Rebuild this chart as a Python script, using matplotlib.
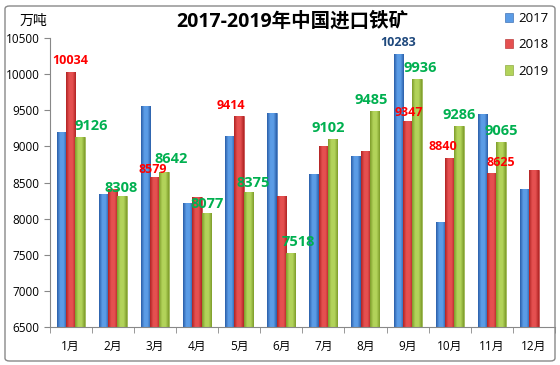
import matplotlib
matplotlib.use("Agg")
import matplotlib.pyplot as plt
import numpy as np
from matplotlib.patches import FancyBboxPatch
from matplotlib.colors import LinearSegmentedColormap

plt.rcParams['font.family'] = ['Open Sans', 'Noto Sans CJK SC', 'DejaVu Sans']

months = ['1月', '2月', '3月', '4月', '5月', '6月', '7月', '8月', '9月', '10月', '11月', '12月']
v2017 = [9200, 8335, 9560, 8220, 9150, 9465, 8620, 8870, 10283, 7950, 9450, 8410]
v2018 = [10034, 8405, 8579, 8295, 9414, 8320, 9000, 8940, 9347, 8840, 8625, 8670]
v2019 = [9126, 8308, 8642, 8077, 8375, 7518, 9102, 9485, 9936, 9286, 9065, np.nan]
labels2017 = [None] * 8 + ['10283'] + [None] * 3
labels2018 = ['10034', None, '8579', None, '9414', None, None, None, '9347', '8840', '8625', None]
labels2019 = ['9126', '8308', '8642', '8077', '8375', '7518', '9102', '9485', '9936', '9286', '9065', None]
series_names = ['2017', '2018', '2019']
yticks = [6500, 7000, 7500, 8000, 8500, 9000, 9500, 10000, 10500]

# manual label nudges (pixels) as placed in the original chart: (series, month) -> (dx, dy)
nudge = {(2, 0): (11, 0), (2, 2): (7, 2), (2, 4): (5, -2), (2, 5): (8, 0), (2, 6): (-4, 0),
         (2, 7): (-4, 0), (2, 8): (3, 0), (2, 3): (1, -2), (2, 1): (-1, -3),
         (1, 2): (-2, -4), (1, 4): (-8, 0), (1, 9): (-7, 0), (1, 10): (9, 0), (1, 8): (1, -2)}

fig = plt.figure(figsize=(5.6, 3.65), dpi=100)
ax = fig.add_axes([49.5 / 560, 38 / 365, (555 - 49.5) / 560, (327 - 38) / 365])

x = np.arange(len(months))
w = 0.222
cols = [('#2a5ea8', '#5b9ce6'), ('#b02424', '#e55050'), ('#7d9c2a', '#b2d35a')]
txtcols = ['#1f497d', '#ff0000', '#00b050']
txtsizes = [9, 9, 10.5]
bars = []
for i, (vals, (dk, lt)) in enumerate(zip([v2017, v2018, v2019], cols)):
    b = ax.bar(x + (i - 1) * w, np.array(vals) - 6500, w, bottom=6500, color=lt,
               edgecolor=dk, linewidth=0.4, label=series_names[i], zorder=2)
    bars.append(b)
    cmap = LinearSegmentedColormap.from_list('g', [dk, lt, lt, dk])
    grad = np.linspace(0, 1, 64).reshape(1, -1)
    for p in b.patches:
        if not np.isfinite(p.get_height()):
            continue
        x0, y0 = p.get_x(), p.get_y()
        im = ax.imshow(grad, cmap=cmap, aspect='auto', zorder=2.5,
                       extent=[x0, x0 + p.get_width(), y0, y0 + p.get_height()])
        im.set_clip_path(p)

for i, (vals, labs) in enumerate(zip([v2017, v2018, v2019], [labels2017, labels2018, labels2019])):
    for j, (v, l) in enumerate(zip(vals, labs)):
        if l is None:
            continue
        dx, dy = nudge.get((i, j), (0, 0))
        ax.annotate(l, (x[j] + (i - 1) * w, v), xytext=((dx) * 0.72, (11 + dy) * 0.72),
                    textcoords='offset points',
                    ha='center', va='center', color=txtcols[i], fontsize=txtsizes[i],
                    fontweight='bold', zorder=5 + i)

ax.set_xlim(-0.5, 11.5)
ax.set_ylim(6500, 10500)
ax.set_yticks(yticks)
ax.set_yticklabels([str(t) for t in yticks], fontsize=8.5)
ax.set_xticks(x)
ax.set_xticklabels(months, fontsize=8.5)
ax.set_xticks(np.arange(-0.5, 12, 1), minor=True)
ax.tick_params(axis='x', which='major', length=0, pad=9)
ax.tick_params(axis='x', which='minor', length=4, color='#888888', direction='out')
ax.tick_params(axis='y', length=4, color='#888888', direction='out', pad=3)
for s in ['top', 'right']:
    ax.spines[s].set_visible(False)
for s in ['left', 'bottom']:
    ax.spines[s].set_color('#888888')
    ax.spines[s].set_linewidth(0.8)

leg = fig.legend(bars, series_names, loc='upper left', bbox_to_anchor=(500 / 560, 1 - 7 / 365),
                 frameon=False, fontsize=9.5, handlelength=0.6, handleheight=0.7,
                 handletextpad=0.4, labelspacing=1.0, borderaxespad=0)

fig.text(292 / 560, 1 - 22 / 365, '2017-2019年中国进口铁矿', ha='center', va='center',
         fontsize=14, fontweight='bold', family=['Open Sans', 'Noto Sans CJK SC'])
fig.text(33 / 560, 1 - 21 / 365, '万吨', ha='center', va='center', fontsize=10,
         family=['Noto Sans CJK SC'])

border = FancyBboxPatch((5 / 560, 4 / 365), 550 / 560, 355 / 365, boxstyle='round,pad=0,rounding_size=0.008',
                        transform=fig.transFigure, fill=False, edgecolor='#888888', linewidth=1.0)
fig.patches.append(border)

fig.savefig('out.png', dpi=100)
